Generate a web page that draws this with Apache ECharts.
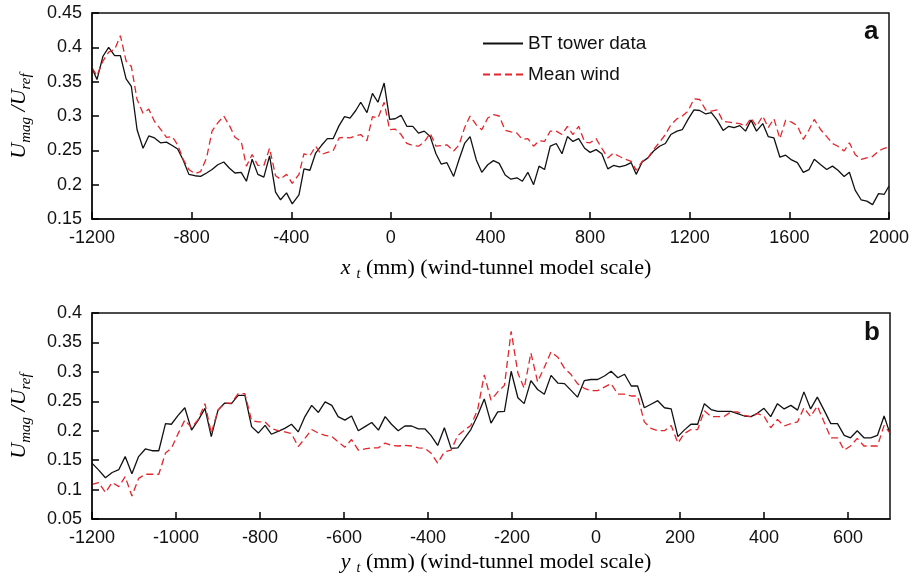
<!DOCTYPE html>
<html><head><meta charset="utf-8">
<script src="https://cdn.jsdelivr.net/npm/echarts@6/dist/echarts.min.js"></script>
<style>html,body{margin:0;padding:0;background:#fff}#c{width:915px;height:577px}</style>
</head><body><div id="c"></div>
<script>
// ---- Panel a: x_t (mm) ----
const topX = [-1200,-1180,-1156,-1133,-1109,-1086,-1063,-1042,-1019,-995,-972,-949,-925,-901,-878,-856,-834,-811,-787,-764,-740,-718,-695,-671,-648,-626,-601,-580,-557,-534,-510,-487,-463,-443,-419,-396,-369,-349,-325,-302,-279,-255,-232,-208,-186,-164,-141,-121,
-96,-74,-52,-27,-5,17,41,64,88,111,134,158,181,202,225,252,274,296,318,343,365,389,412,435,459,482,506,528,550,573,595,617,640,664,687,709,731,754,778,800,824,847,
871,894,918,942,965,985,1009,1032,1055,1079,1102,1124,1149,1170,1193,1217,1240,1264,1287,1310,1334,1357,1378,1401,1424,1446,1468,1493,1515,1538,1562,1585,1609,1632,1656,1679,1700,1726,1750,1773,1795,1820,1841,1864,1888,1911,1934,1958,1981,2000];
const topBT = [0.370,0.353,0.387,0.400,0.388,0.388,0.354,0.343,0.280,0.253,0.271,0.268,0.261,0.262,0.257,0.252,0.236,0.215,0.213,0.212,0.217,0.222,0.229,0.233,0.224,0.217,0.218,0.205,0.237,0.215,0.211,0.242,0.189,0.178,0.188,0.172,0.185,0.223,0.221,0.246,0.257,0.267,0.267,0.286,0.299,0.297,0.308,0.320,
0.305,0.333,0.320,0.348,0.295,0.296,0.301,0.285,0.285,0.275,0.278,0.270,0.245,0.230,0.232,0.212,0.237,0.260,0.270,0.236,0.218,0.229,0.235,0.231,0.214,0.208,0.210,0.205,0.218,0.200,0.227,0.222,0.256,0.260,0.245,0.270,0.263,0.267,0.253,0.247,0.251,0.245,
0.223,0.228,0.226,0.228,0.232,0.215,0.233,0.239,0.249,0.256,0.260,0.273,0.278,0.280,0.295,0.309,0.308,0.303,0.305,0.294,0.279,0.285,0.283,0.286,0.278,0.294,0.278,0.289,0.270,0.268,0.240,0.243,0.236,0.232,0.218,0.222,0.237,0.229,0.222,0.227,0.221,0.212,0.218,0.192,0.178,0.176,0.171,0.187,0.186,0.198];
const topMean = [0.370,0.359,0.380,0.393,0.397,0.417,0.380,0.372,0.324,0.304,0.310,0.292,0.281,0.269,0.270,0.258,0.237,0.222,0.216,0.219,0.239,0.278,0.290,0.300,0.286,0.269,0.263,0.227,0.244,0.228,0.228,0.253,0.213,0.208,0.215,0.202,0.215,0.245,0.242,0.256,0.244,0.247,0.249,0.268,0.269,0.268,0.271,0.273,
0.264,0.299,0.297,0.320,0.280,0.281,0.273,0.260,0.257,0.256,0.262,0.275,0.256,0.257,0.258,0.249,0.258,0.283,0.300,0.287,0.280,0.297,0.302,0.300,0.279,0.277,0.275,0.266,0.267,0.256,0.264,0.263,0.278,0.278,0.273,0.285,0.273,0.285,0.262,0.261,0.267,0.253,
0.239,0.246,0.241,0.237,0.234,0.221,0.234,0.239,0.251,0.262,0.273,0.287,0.296,0.300,0.307,0.325,0.324,0.309,0.307,0.309,0.292,0.291,0.290,0.289,0.285,0.297,0.285,0.300,0.283,0.296,0.267,0.294,0.291,0.286,0.266,0.280,0.295,0.280,0.270,0.260,0.256,0.249,0.261,0.244,0.237,0.239,0.241,0.249,0.253,0.255];

// ---- Panel b: y_t (mm) ----
const botX = [-1200,-1184,-1168,-1152,-1136,-1121,-1105,-1089,-1073,-1057,-1041,-1025,-1011,-995,-979,-963,-947,-931,-916,-900,-884,-868,-852,-836,-820,-804,-788,-773,-757,-741,-725,-709,-693,-677,-661,-645,-629,-614,-598,-582,
-566,-550,-534,-518,-502,-487,-471,-455,-439,-423,-407,-393,-377,-361,-345,-329,-313,-298,-282,-266,-250,-234,-218,-202,-186,-171,-155,-139,-123,-107,-91,-75,-60,-44,-28,-12,4,
20,36,52,68,84,99,115,131,147,163,179,195,210,226,242,258,274,290,305,321,337,353,369,385,400,416,432,448,464,480,495,511,527,543,559,575,591,606,622,638,654,670,686,700];
const botBT = [0.145,0.133,0.120,0.129,0.134,0.156,0.127,0.156,0.169,0.166,0.166,0.212,0.211,0.226,0.239,0.201,0.218,0.238,0.190,0.235,0.247,0.246,0.260,0.260,0.207,0.196,0.209,0.194,0.199,0.204,0.211,0.198,0.224,0.243,0.231,0.249,0.243,0.224,0.218,0.225,
0.200,0.207,0.214,0.201,0.224,0.211,0.200,0.208,0.208,0.203,0.203,0.192,0.175,0.205,0.170,0.171,0.187,0.202,0.226,0.254,0.213,0.232,0.233,0.301,0.256,0.246,0.285,0.270,0.262,0.294,0.281,0.280,0.269,0.257,0.285,0.287,0.287,
0.293,0.301,0.290,0.296,0.276,0.276,0.239,0.245,0.251,0.239,0.237,0.190,0.201,0.211,0.211,0.246,0.236,0.233,0.233,0.233,0.229,0.225,0.224,0.230,0.238,0.224,0.246,0.237,0.243,0.235,0.266,0.237,0.257,0.235,0.212,0.212,0.192,0.188,0.200,0.188,0.188,0.192,0.225,0.195];
const botMean = [0.109,0.112,0.095,0.112,0.105,0.122,0.089,0.119,0.126,0.126,0.126,0.162,0.170,0.195,0.218,0.205,0.219,0.246,0.196,0.235,0.247,0.247,0.263,0.263,0.217,0.215,0.215,0.204,0.200,0.198,0.195,0.173,0.187,0.202,0.196,0.192,0.190,0.181,0.172,0.185,
0.167,0.169,0.171,0.171,0.179,0.175,0.174,0.175,0.174,0.171,0.170,0.162,0.145,0.164,0.167,0.192,0.201,0.209,0.235,0.295,0.252,0.266,0.277,0.369,0.298,0.272,0.332,0.283,0.308,0.334,0.325,0.306,0.296,0.280,0.272,0.268,0.268,
0.274,0.280,0.262,0.262,0.259,0.259,0.215,0.204,0.200,0.200,0.209,0.179,0.195,0.202,0.202,0.234,0.224,0.224,0.224,0.232,0.232,0.226,0.224,0.229,0.225,0.205,0.219,0.208,0.212,0.215,0.239,0.224,0.242,0.215,0.188,0.188,0.167,0.174,0.187,0.174,0.174,0.174,0.209,0.196];

// axis ranges / tick steps
const topXRange = [-1200, 2000, 400];
const topYRange = [0.15, 0.45, 0.05];
const botXRange = [-1200, 700, 200];
const botYRange = [0.05, 0.4, 0.05];

const SANS = "'Liberation Sans', Arial, Helvetica, sans-serif";
const SERIF = "'Liberation Serif', 'Times New Roman', serif";
const RED = '#e3262b';

const zip = (xs, ys) => xs.map((x, i) => [x, ys[i]]);

const chart = echarts.init(document.getElementById('c'), null, {renderer: 'canvas'});

function xAxis(gi, r, hideMax) {
  return {
    type: 'value', gridIndex: gi, min: r[0], max: r[1], interval: r[2],
    axisLine: {show: true, onZero: false, lineStyle: {color: '#111', width: 1.5}},
    axisTick: {show: true, inside: true, length: 7, lineStyle: {color: '#000', width: 1.5}},
    axisLabel: {color: '#111', fontFamily: SANS, fontSize: 18, margin: 10, showMaxLabel: !hideMax,
      formatter: v => String(v)},
    splitLine: {show: false}, z: 5
  };
}
function yAxis(gi, r) {
  return {
    type: 'value', gridIndex: gi, min: r[0], max: r[1], interval: r[2],
    axisLine: {show: true, onZero: false, lineStyle: {color: '#111', width: 1.5}},
    axisTick: {show: true, inside: true, length: 7, lineStyle: {color: '#000', width: 1.5}},
    axisLabel: {color: '#111', fontFamily: SANS, fontSize: 18, margin: 10,
      formatter: v => String(+v.toFixed(2))},
    splitLine: {show: false}, z: 5
  };
}
function line(name, gi, data, dashed) {
  return {
    name, type: 'line', xAxisIndex: gi, yAxisIndex: gi, data,
    symbol: 'none', smooth: false, animation: false,
    lineStyle: dashed ? {color: RED, width: 1.3, type: [7, 4]} : {color: '#111', width: 1.3},
    itemStyle: {color: dashed ? RED : '#111'}
  };
}

const yNameRich = {
  u: {fontFamily: SERIF, fontStyle: 'italic', fontSize: 22, lineHeight: 22, color: '#222'},
  s: {fontFamily: SERIF, fontStyle: 'italic', fontSize: 15, lineHeight: 15, padding: [14, 0, 0, 0], color: '#222'}
};
const xNameRich = {
  u: {fontFamily: SERIF, fontStyle: 'italic', fontSize: 22, lineHeight: 24, color: '#222'},
  s: {fontFamily: SERIF, fontStyle: 'italic', fontSize: 14, lineHeight: 14, padding: [12, 0, 0, 6], color: '#222'},
  n: {fontFamily: SERIF, fontSize: 22, lineHeight: 24, color: '#222'}
};

chart.setOption({
  animation: false,
  grid: [
    {left: 92, right: 26, top: 13, height: 206, show: true, borderColor: '#111', borderWidth: 1.5, backgroundColor: 'transparent'},
    {left: 92, right: 25, top: 313, height: 206, show: true, borderColor: '#111', borderWidth: 1.5, backgroundColor: 'transparent'}
  ],
  xAxis: [xAxis(0, topXRange, false), xAxis(1, botXRange, true)],
  yAxis: [yAxis(0, topYRange), yAxis(1, botYRange)],
  legend: {
    orient: 'vertical', left: 482, top: 34, padding: 0, itemWidth: 40, itemHeight: 14, itemGap: 12,
    itemStyle: {opacity: 0},
    textStyle: {fontFamily: SANS, fontSize: 19, color: '#111'},
    data: ['BT tower data', 'Mean wind']
  },
  series: [
    line('BT tower data', 0, zip(topX, topBT), false),
    line('Mean wind', 0, zip(topX, topMean), true),
    line('BT tower data', 1, zip(botX, botBT), false),
    line('Mean wind', 1, zip(botX, botMean), true)
  ],
  graphic: [
    {type: 'text', left: 864, top: 19, style: {text: 'a', font: "bold 26px " + SANS, fill: '#111'}},
    {type: 'text', left: 864, top: 320, style: {text: 'b', font: "bold 26px " + SANS, fill: '#111'}},
    {type: 'text', x: 496, y: 268, style: {text: '{u|x}{s|t}{n| (mm) (wind-tunnel model scale)}', rich: xNameRich, align: 'center', verticalAlign: 'middle'}},
    {type: 'text', x: 496, y: 562, style: {text: '{u|y}{s|t}{n| (mm) (wind-tunnel model scale)}', rich: xNameRich, align: 'center', verticalAlign: 'middle'}},
    {type: 'text', x: 19, y: 116, rotation: Math.PI / 2, style: {text: '{u|U}{s|mag}{u| /U}{s|ref}', rich: yNameRich, align: 'center', verticalAlign: 'middle'}},
    {type: 'text', x: 19, y: 416, rotation: Math.PI / 2, style: {text: '{u|U}{s|mag}{u| /U}{s|ref}', rich: yNameRich, align: 'center', verticalAlign: 'middle'}}
  ]
});
</script>
</body></html>
